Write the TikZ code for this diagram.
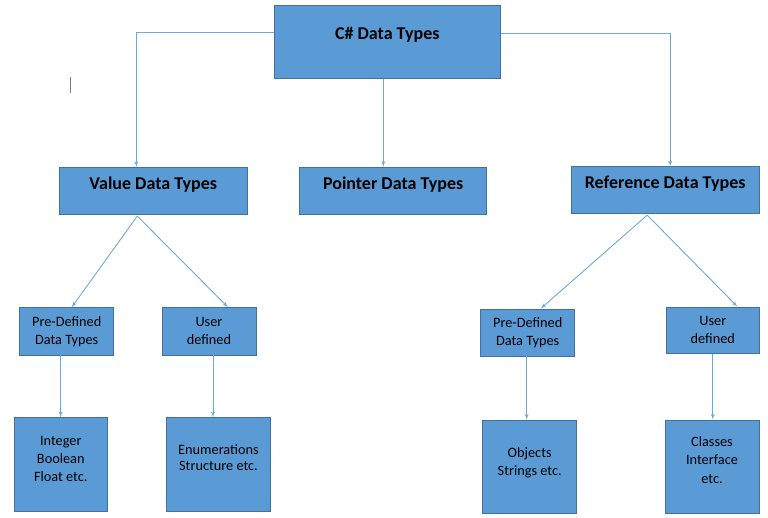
\documentclass[tikz,border=0pt]{standalone}
\usepackage{fontspec}
\setmainfont{Carlito}
\usepackage{tikz}
\usetikzlibrary{arrows}

\definecolor{boxfill}{HTML}{5B9BD5}
\definecolor{boxline}{HTML}{41719C}
\definecolor{linkline}{HTML}{6FA8DC}

\begin{document}
\begin{tikzpicture}[x=1bp,y=-1bp,>=latex',semithick]

  \tikzstyle{typebox}=[draw=boxline,fill=boxfill,inner sep=0pt,line width=0.8bp,
                       text=black,align=center,font=\fontsize{14.3bp}{18bp}\selectfont]
  \tikzstyle{headbox}=[typebox,font=\bfseries\fontsize{18bp}{22bp}\selectfont,text depth=15bp]
  \tikzstyle{link}=[->,draw=linkline,line width=0.9bp,shorten >=0pt]

  \useasboundingbox (0,0) rectangle (768,518);

  \node[headbox,minimum width=226.7bp,minimum height=73.7bp,text depth=17bp] (top) at (387.3,41.8) {C\# Data Types};

  \node[headbox,minimum width=188bp,minimum height=47.4bp] (val) at (153.3,191) {Value Data Types};
  \node[headbox,minimum width=187bp,minimum height=47.5bp] (ptr) at (393.2,191) {Pointer Data Types};
  \node[headbox,minimum width=187.7bp,minimum height=47bp] (ref) at (665.2,190.2) {Reference Data Types};

  \node[typebox,minimum width=94bp,minimum height=47.3bp] (pdl) at (66.7,331.3) {Pre-Defined\\Data Types};
  \node[typebox,minimum width=94bp,minimum height=47.3bp] (udl) at (209,331.3) {User\\defined};
  \node[typebox,minimum width=94bp,minimum height=47bp] (pdr) at (527.7,332.5) {Pre-Defined\\Data Types};
  \node[typebox,minimum width=93.7bp,minimum height=46.7bp] (udr) at (712.8,330.3) {User\\defined};

  \node[typebox,minimum width=93.7bp,minimum height=94bp,text depth=12bp] (intb) at (60.8,464.7) {Integer\\Boolean\\Float etc.};
  \node[typebox,minimum width=103.6bp,minimum height=94bp,text depth=14bp] (enm) at (218.5,464.7) {Enumerations\\[-1.5bp]Structure etc.};
  \node[typebox,minimum width=94bp,minimum height=93.3bp,text depth=11bp] (obj) at (529.7,466.7) {Objects\\Strings etc.};
  \node[typebox,minimum width=94bp,minimum height=93bp,text depth=12bp] (cls) at (712,466.5) {Classes\\Interface\\[1bp]etc.};

  \draw[draw=gray,line width=0.6bp] (70.7,77.3) -- (70.7,93.3);

  \draw[link] ([yshift=9bp]top.west) -| ([xshift=-17bp]val.north);
  \draw[link] ([xshift=-4bp]top.south) -- ([xshift=-4bp]top.south |- ptr.north);
  \draw[link] ([yshift=8bp]top.east) -| ([xshift=5bp]ref.north);

  \draw[link] ([xshift=-16bp,yshift=-1bp]val.south) -- ([xshift=5bp]pdl.north);
  \draw[link] ([xshift=-16bp,yshift=-1bp]val.south) -- ([xshift=19bp]udl.north);
  \draw[link] ([xshift=-18bp,yshift=-1bp]ref.south) -- ([xshift=13bp]pdr.north);
  \draw[link] ([xshift=-18bp,yshift=-1bp]ref.south) -- ([xshift=24.5bp]udr.north);

  \draw[link] ([xshift=-6bp]pdl.south) -- ([xshift=-6bp]pdl.south |- intb.north);
  \draw[link] ([xshift=4bp]udl.south) -- ([xshift=4bp]udl.south |- enm.north);
  \draw[link] ([xshift=-1bp]pdr.south) -- ([xshift=-1bp]pdr.south |- obj.north);
  \draw[link] (udr.south) -- (udr.south |- cls.north);
\end{tikzpicture}
\end{document}
